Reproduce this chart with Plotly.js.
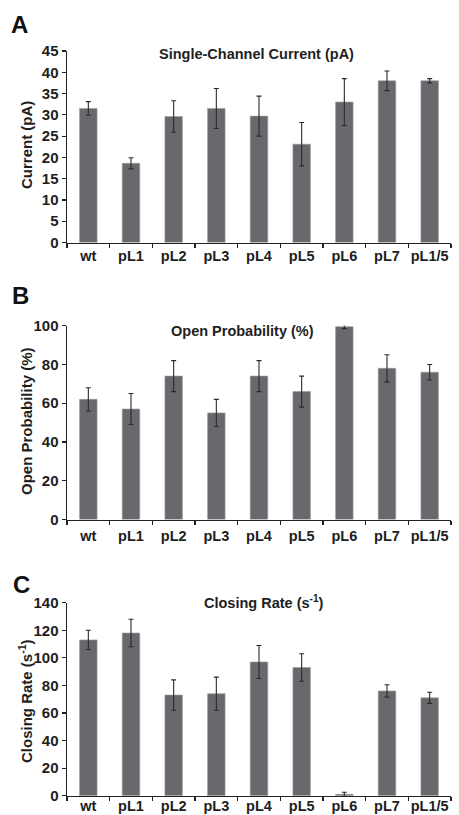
<!DOCTYPE html>
<html>
<head>
<meta charset="utf-8">
<script src="https://cdn.plot.ly/plotly-3.0.1.min.js"></script>
<style>html,body{margin:0;padding:0;background:#fff;}#chart{width:459px;height:815px;}</style>
</head>
<body>
<div id="chart"></div>
<script>
// ---- data ----
const categories = ["wt", "pL1", "pL2", "pL3", "pL4", "pL5", "pL6", "pL7", "pL1/5"];

const currentValues = [31.5, 18.6, 29.6, 31.5, 29.7, 23.1, 33.0, 38.0, 38.0];
const currentErrors = [1.6, 1.3, 3.7, 4.7, 4.7, 5.1, 5.5, 2.3, 0.5];

const openProbValues = [62, 57, 74, 55, 74, 66, 99.5, 78, 76];
const openProbErrors = [6, 8, 8, 7, 8, 8, 1, 7, 4];

const closingValues = [113, 118, 73, 74, 97, 93, 1, 76, 71];
const closingErrors = [7, 10, 11, 12, 12, 10, 1.5, 4.5, 4];

const panelTitles = ["Single-Channel Current (pA)", "Open Probability (%)", "Closing Rate (s<sup>-1</sup>)"];
const yTitles = ["Current (pA)", "Open Probability (%)", "Closing Rate (s<sup>-1</sup>)"];
const panelLetters = ["A", "B", "C"];
const yRanges = [[0, 45], [0, 100], [0, 140]];
const yTicks = [5, 20, 20];

// ---- layout helpers ----
const W = 459, H = 815;
const px = v => v / W;
const py = v => 1 - v / H;
const FONT = "Liberation Sans, Arial, sans-serif";
const TXT = "#1e1e1e";
const BAR = "#69696d";

const seriesVals = [currentValues, openProbValues, closingValues];
const seriesErr = [currentErrors, openProbErrors, closingErrors];

// pixel geometry of each panel: [top, bottom]
const panelPx = [[51, 242.5], [325.7, 519.5], [602.7, 795.7]];
const xLeft = 67, xRight = 451;
const xLabelStandoff = [0, 3, -4];

const traces = seriesVals.map((vals, i) => ({
  type: "bar",
  x: categories,
  y: vals,
  xaxis: i === 0 ? "x" : "x" + (i + 1),
  yaxis: i === 0 ? "y" : "y" + (i + 1),
  marker: {color: BAR, line: {color: "#9a9aa0", width: 0.6}},
  error_y: {type: "data", array: seriesErr[i], visible: true, color: "#2a2a2a", thickness: 1.1, width: 2.5},
  hoverinfo: "none",
  showlegend: false
}));

const layout = {
  width: W, height: H,
  margin: {l: 0, r: 0, t: 0, b: 0},
  paper_bgcolor: "#fff",
  plot_bgcolor: "#fff",
  bargap: 0.59,
  font: {family: FONT, color: TXT},
  annotations: []
};

// panel title/letter/ytitle pixel positions
const titlePos = [[256, 54], [242, 331], [264, 602]];
const letterPos = [[19, 24], [20, 295], [21, 584]];
const yTitlePos = [[27, 145], [26, 421], [25, 701]];

for (let i = 0; i < 3; i++) {
  const sfx = i === 0 ? "" : String(i + 1);
  const [top, bot] = panelPx[i];
  layout["xaxis" + sfx] = {
    domain: [px(xLeft), px(xRight)],
    anchor: "y" + sfx,
    type: "category",
    showline: true, linecolor: "#222", linewidth: 1.5,
    ticks: "outside", tickson: "boundaries", ticklen: 4, tickcolor: "#222", tickwidth: 1.2,
    tickangle: 0, automargin: false, ticklabelstandoff: xLabelStandoff[i],
    tickfont: {family: FONT, size: 14.5, color: TXT, weight: 700},
    showgrid: false, zeroline: false, fixedrange: true
  };
  layout["yaxis" + sfx] = {
    domain: [py(bot), py(top)],
    anchor: "x" + sfx,
    range: yRanges[i],
    dtick: yTicks[i], tick0: 0,
    showline: true, linecolor: "#222", linewidth: 1.5,
    ticks: "outside", ticklen: 4, tickcolor: "#222", tickwidth: 1.2,
    automargin: false,
    tickfont: {family: FONT, size: 15, color: TXT, weight: 700},
    showgrid: false, zeroline: false, fixedrange: true
  };
  layout.annotations.push({
    xref: "paper", yref: "paper", x: px(titlePos[i][0]), y: py(titlePos[i][1]),
    xanchor: "center", yanchor: "middle", showarrow: false,
    text: panelTitles[i], font: {family: FONT, size: 14.5, color: TXT, weight: 700}
  });
  layout.annotations.push({
    xref: "paper", yref: "paper", x: px(letterPos[i][0]), y: py(letterPos[i][1]),
    xanchor: "center", yanchor: "middle", showarrow: false,
    text: panelLetters[i], font: {family: FONT, size: 24, color: "#111", weight: 700}
  });
  layout.annotations.push({
    xref: "paper", yref: "paper", x: px(yTitlePos[i][0]), y: py(yTitlePos[i][1]),
    xanchor: "center", yanchor: "middle", showarrow: false, textangle: -90,
    text: yTitles[i], font: {family: FONT, size: 15, color: TXT, weight: 700}
  });
}

Plotly.newPlot("chart", traces, layout, {staticPlot: true, displayModeBar: false});
</script>
</body>
</html>
